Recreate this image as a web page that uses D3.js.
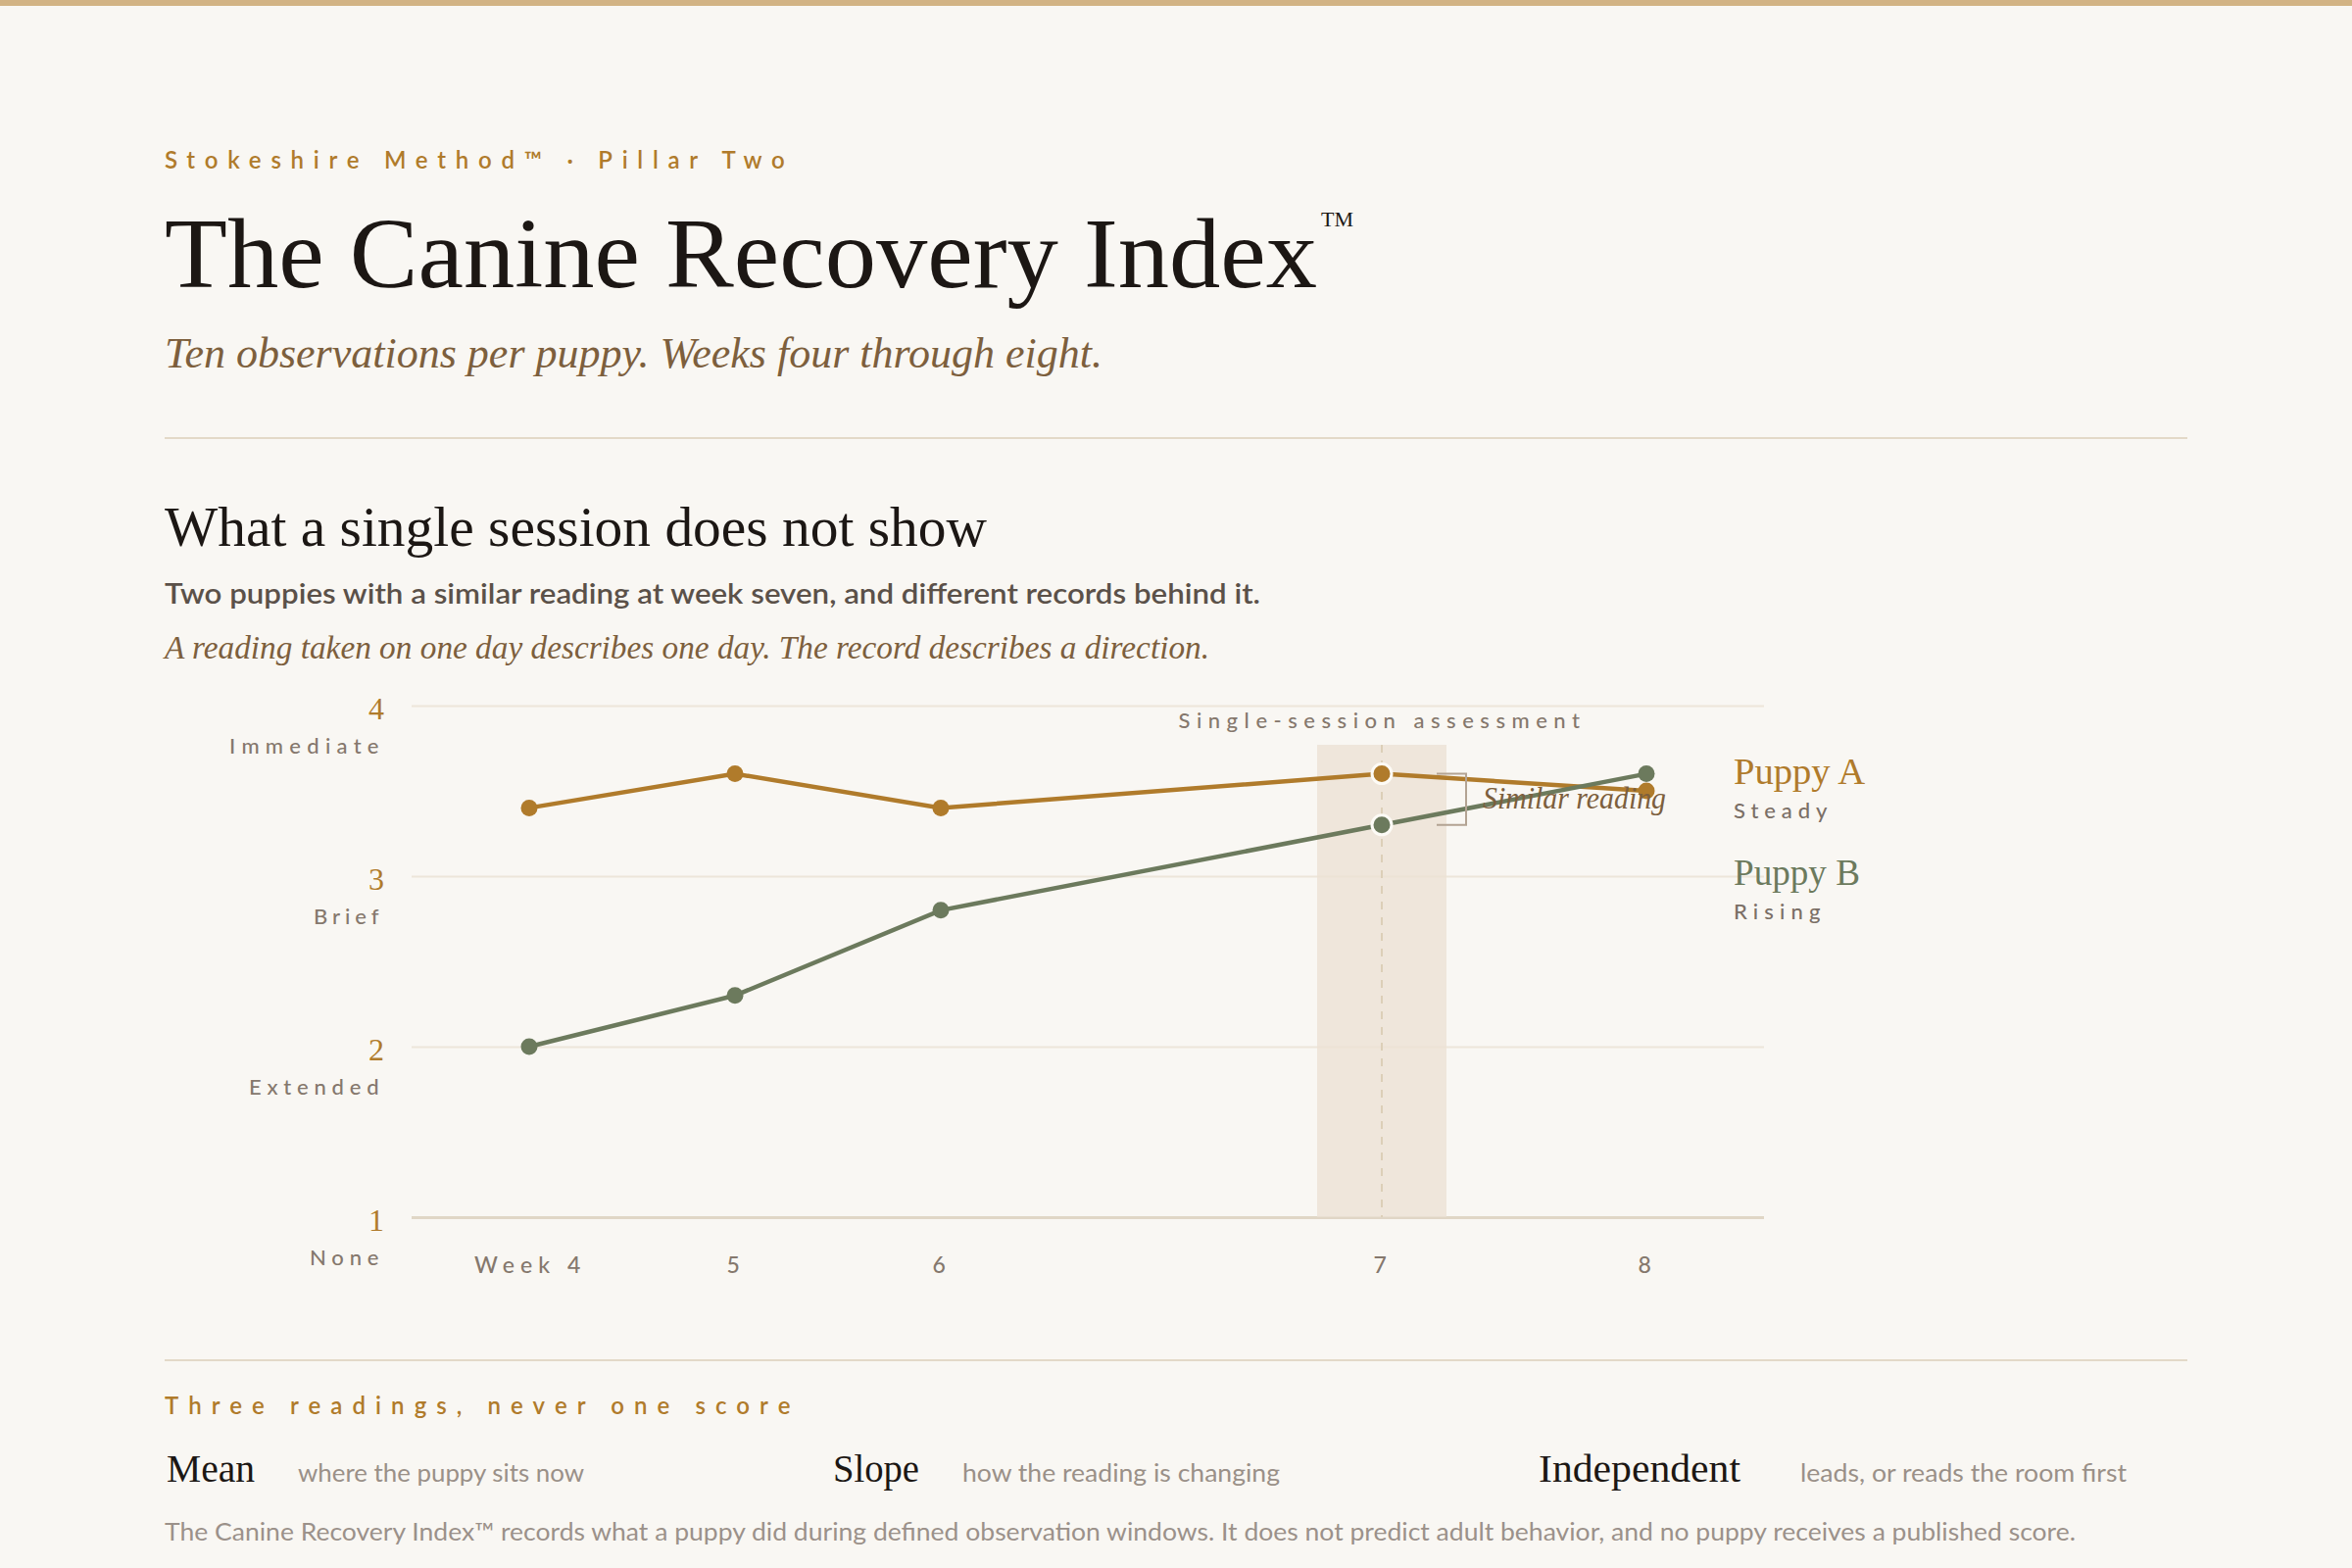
<!DOCTYPE html>
<html>
<head>
<meta charset="utf-8">
<script src="https://cdn.jsdelivr.net/npm/d3@7"></script>
<style>
  html, body { margin: 0; padding: 0; background: #f9f7f3; }
  svg { display: block; }
</style>
</head>
<body>
<div id="chart"></div>
<script>
/* Recovery readings, weeks four through eight */
var weekLabels = ["Week 4", "5", "6", "7", "8"];
var obsDay = [28, 35, 42, 57, 66];          // observation day of each session
var puppyA = [3.4, 3.6, 3.4, 3.6, 3.5];
var puppyB = [2.0, 2.3, 2.8, 3.3, 3.6];
var levels = [1, 2, 3, 4];
var levelNames = ["None", "Extended", "Brief", "Immediate"];
var focusIndex = 3;                          // the week-seven session
var readings = [
  ["Mean", "where the puppy sits now"],
  ["Slope", "how the reading is changing"],
  ["Independent", "leads, or reads the room first"]
];

var SERIF = "'Liberation Serif', 'DejaVu Serif', serif";
var SANS = "Lato, 'Open Sans', sans-serif";
var GOLD = "#b07b2b", GREEN = "#6c7a5d", MUTED = "#85786d", BROWN = "#7d5f3d";

var svg = d3.select("#chart").append("svg")
  .attr("width", 2400).attr("height", 1600);

svg.append("rect").attr("width", 2400).attr("height", 1600).attr("fill", "#f9f7f3");
svg.append("rect").attr("width", 2400).attr("height", 6).attr("fill", "#d2b384");

/* squeeze or stretch a text so it spans the same width as in the print */
function fit(sel, w, adj) {
  return sel.attr("textLength", w).attr("lengthAdjust", adj || "spacingAndGlyphs");
}

function txt(x, y, s, font, size, color) {
  return svg.append("text").attr("x", x).attr("y", y).text(s)
    .attr("font-family", font).attr("font-size", size).attr("fill", color);
}

// Header
fit(txt(168, 172, "Stokeshire Method\u2122 \u00b7 Pillar Two", SANS, 24, GOLD)
  .attr("font-weight", 600).attr("letter-spacing", "0.3em"), 640, "spacing");
fit(txt(168, 293, "The Canine Recovery Index", SERIF, 102, "#1c1714"), 1176);
fit(txt(1348, 231, "TM", SERIF, 22, "#1c1714"), 33);
fit(txt(168, 375, "Ten observations per puppy. Weeks four through eight.", SERIF, 44, BROWN)
  .attr("font-style", "italic"), 957);

svg.append("line").attr("x1", 168).attr("x2", 2232).attr("y1", 447).attr("y2", 447)
  .attr("stroke", "#e3d9c8").attr("stroke-width", 2);

fit(txt(168, 557, "What a single session does not show", SERIF, 58, "#1c1714"), 839);
fit(txt(168, 616, "Two puppies with a similar reading at week seven, and different records behind it.", SANS, 29, "#5b5149")
  .attr("font-weight", 600), 1118);
fit(txt(168, 672, "A reading taken on one day describes one day. The record describes a direction.", SERIF, 34, BROWN)
  .attr("font-style", "italic"), 1066);

// Chart
var x = d3.scaleLinear().domain([24, 70]).range([420, 1800]);
var y = d3.scaleLinear().domain([1, 4]).range([1242, 720]);

var grid = svg.append("g").attr("transform", "translate(420,0)")
  .call(d3.axisRight(y).tickValues(levels).tickSize(x.range()[1] - x.range()[0]).tickFormat(""));
grid.select(".domain").remove();
grid.selectAll(".tick line")
  .attr("stroke", function(d) { return d === 1 ? "#e0d6c6" : "#ede6da"; })
  .attr("stroke-width", function(d) { return d === 1 ? 3 : 2; });

// single-session band
var fx = x(obsDay[focusIndex]);
svg.append("rect")
  .attr("x", x(obsDay[focusIndex] - 2.2)).attr("width", x(obsDay[focusIndex] + 2.2) - x(obsDay[focusIndex] - 2.2))
  .attr("y", 760).attr("height", y(1) - 760)
  .attr("fill", "#ece2d3").attr("opacity", 0.78);
svg.append("line").attr("x1", fx).attr("x2", fx).attr("y1", 760).attr("y2", y(1))
  .attr("stroke", "#dccfb8").attr("stroke-width", 2).attr("stroke-dasharray", "8 8");
fit(txt(fx, 743, "Single-session assessment", SANS, 22, MUTED)
  .attr("font-weight", 500).attr("text-anchor", "middle").attr("letter-spacing", "0.25em"), 415, "spacing");

// y axis: number and name per level
var yAxis = svg.append("g").attr("transform", "translate(392,0)")
  .call(d3.axisLeft(y).tickValues(levels).tickSize(0).tickPadding(0).tickFormat(d3.format("d")));
yAxis.select(".domain").remove();
yAxis.selectAll(".tick text")
  .attr("y", 13).attr("dy", 0)
  .attr("font-family", SERIF).attr("font-size", 32).attr("fill", GOLD);
var nameW = [76, 138, 72, 158];
yAxis.selectAll(".tick").append("text")
  .attr("y", 48).attr("text-anchor", "end")
  .attr("font-family", SANS).attr("font-size", 22).attr("font-weight", 500).attr("fill", MUTED)
  .attr("letter-spacing", "0.25em")
  .text(function(d) { return levelNames[d - 1]; })
  .attr("textLength", function(d) { return nameW[d - 1]; })
  .attr("lengthAdjust", "spacing");

// x axis
var xAxis = svg.append("g").attr("transform", "translate(0," + y(1) + ")")
  .call(d3.axisBottom(x).tickValues(obsDay).tickSize(0).tickPadding(41)
    .tickFormat(function(d, i) { return weekLabels[i]; }));
xAxis.select(".domain").remove();
xAxis.selectAll(".tick text")
  .attr("font-family", SANS).attr("font-size", 23).attr("font-weight", 500).attr("fill", MUTED)
  .attr("letter-spacing", "0.2em")
  .each(function(d, i) { if (i === 0) fit(d3.select(this), 113, "spacing"); });

// lines
var line = d3.line()
  .x(function(d, i) { return x(obsDay[i]); })
  .y(function(d) { return y(d); });

svg.append("path").datum(puppyA).attr("d", line)
  .attr("fill", "none").attr("stroke", GOLD).attr("stroke-width", 4.5);
svg.append("path").datum(puppyB).attr("d", line)
  .attr("fill", "none").attr("stroke", GREEN).attr("stroke-width", 4.5);

function dots(data, color) {
  svg.append("g").selectAll("circle").data(data).join("circle")
    .attr("cx", function(d, i) { return x(obsDay[i]); })
    .attr("cy", function(d) { return y(d); })
    .attr("r", function(d, i) { return i === focusIndex ? 10 : 8.5; })
    .attr("fill", color)
    .attr("stroke", function(d, i) { return i === focusIndex ? "#fdfbf6" : "none"; })
    .attr("stroke-width", 3);
}
dots(puppyB, GREEN);
dots(puppyA, GOLD);

// bracket for the similar week-seven reading
var ya = y(puppyA[focusIndex]), yb = y(puppyB[focusIndex]);
svg.append("path")
  .attr("d", "M" + (fx + 56) + "," + ya + "H" + (fx + 86) + "V" + yb + "H" + (fx + 56))
  .attr("fill", "none").attr("stroke", "#b3a393").attr("stroke-width", 2);
fit(txt(fx + 103, 825, "Similar reading", SERIF, 32, BROWN).attr("font-style", "italic"), 187);

// series labels
var lx = x(70) - 31;
fit(txt(lx, 800, "Puppy A", SERIF, 38, GOLD), 134);
fit(txt(lx, 835, "Steady", SANS, 22, "#7b6f66").attr("font-weight", 500).attr("letter-spacing", "0.25em"), 101, "spacing");
fit(txt(lx, 903, "Puppy B", SERIF, 38, GREEN), 129);
fit(txt(lx, 938, "Rising", SANS, 22, "#7b6f66").attr("font-weight", 500).attr("letter-spacing", "0.25em"), 94, "spacing");

// Footer
svg.append("line").attr("x1", 168).attr("x2", 2232).attr("y1", 1388).attr("y2", 1388)
  .attr("stroke", "#e3d9c8").attr("stroke-width", 2);
fit(txt(168, 1443, "Three readings, never one score", SANS, 24, GOLD)
  .attr("font-weight", 600).attr("letter-spacing", "0.4em"), 648, "spacing");

var termX = [170, 850, 1570], termW = [90, 88, 206];
var descX = [304, 982, 1837], descW = [292, 324, 333];
readings.forEach(function(r, i) {
  fit(txt(termX[i], 1512, r[0], SERIF, 40, "#1c1714"), termW[i]);
  fit(txt(descX[i], 1512, r[1], SANS, 25, "#9a9088"), descW[i]);
});

fit(txt(168, 1572, "The Canine Recovery Index\u2122 records what a puppy did during defined observation windows. It does not predict adult behavior, and no puppy receives a published score.", SANS, 25, "#9b918a"), 1950);
</script>
</body>
</html>
